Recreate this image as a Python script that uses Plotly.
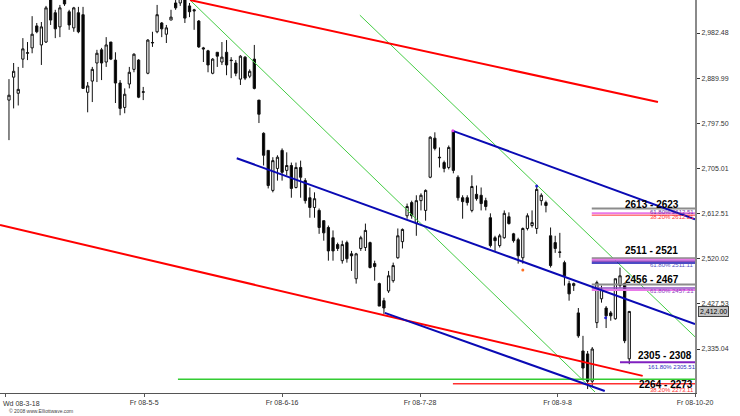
import plotly.graph_objects as go

# ---- candle data (daily OHLC) ----
opens = [2845, 2892, 2859, 2929, 2941, 2952, 2997, 2958, 2964, 3060,
         3024, 2995, 3055, 3026, 2993, 3024, 3020, 2861, 2884, 2921,
         2948, 2923, 2964, 2927, 2880, 2830, 2878, 2908, 2927, 2861,
         2900, 2962, 2985, 3003, 2980, 3009, 3044, 3044, 3060, 3038,
         3030, 3007, 2952, 2946, 2900, 2943, 2923, 2943, 2927, 2921,
         2888, 2933, 2894, 2929, 2845, 2777, 2742, 2660, 2705, 2742,
         2701, 2711, 2666, 2707, 2680, 2645, 2625, 2619, 2598, 2584,
         2563, 2549, 2516, 2553, 2530, 2479, 2541, 2543, 2553, 2510,
         2469, 2434, 2454, 2475, 2522, 2555, 2608, 2635, 2592, 2639,
         2619, 2687, 2767, 2728, 2717, 2707, 2781, 2687, 2645, 2645,
         2619, 2652, 2650, 2639, 2604, 2563, 2547, 2563, 2606, 2571,
         2559, 2522, 2582, 2588, 2582, 2639, 2635, 2567, 2553, 2534,
         2512, 2469, 2465, 2409, 2331, 2325, 2269, 2389, 2438, 2419,
         2409, 2397, 2465, 2469, 2315]
highs = [2888, 2921, 2913, 2972, 2964, 3017, 3003, 3005, 3038, 3075,
         3030, 3040, 3070, 3030, 3036, 3036, 3036, 2882, 2913, 2948,
         2952, 2974, 2964, 2943, 2886, 2869, 2913, 2941, 2929, 2872,
         2970, 2985, 3040, 3005, 2999, 3030, 3050, 3070, 3070, 3044,
         3032, 3009, 2954, 2948, 2931, 2943, 2964, 2968, 2933, 2927,
         2937, 2935, 2908, 2958, 2845, 2779, 2742, 2728, 2732, 2746,
         2738, 2717, 2717, 2721, 2685, 2666, 2656, 2623, 2598, 2588,
         2578, 2553, 2557, 2557, 2536, 2532, 2567, 2592, 2555, 2516,
         2471, 2440, 2495, 2512, 2582, 2582, 2633, 2639, 2650, 2654,
         2662, 2771, 2779, 2748, 2721, 2752, 2783, 2691, 2650, 2650,
         2691, 2670, 2666, 2645, 2613, 2567, 2571, 2619, 2615, 2573,
         2563, 2584, 2613, 2619, 2668, 2654, 2639, 2584, 2567, 2573,
         2516, 2475, 2471, 2419, 2362, 2331, 2339, 2475, 2465, 2423,
         2413, 2479, 2502, 2471, 2413]
lows = [2763, 2828, 2834, 2911, 2927, 2941, 2982, 2917, 2962, 2999,
        2972, 2974, 3038, 2989, 2985, 2982, 2869, 2820, 2841, 2882,
        2886, 2913, 2927, 2839, 2814, 2818, 2869, 2902, 2849, 2845,
        2898, 2954, 2982, 2974, 2962, 3009, 3030, 3038, 3003, 3015,
        2989, 2952, 2923, 2902, 2898, 2913, 2917, 2896, 2890, 2894,
        2876, 2886, 2890, 2867, 2798, 2711, 2664, 2656, 2680, 2680,
        2691, 2645, 2664, 2645, 2633, 2604, 2604, 2571, 2557, 2516,
        2516, 2536, 2510, 2512, 2495, 2469, 2536, 2536, 2500, 2475,
        2423, 2407, 2450, 2471, 2520, 2541, 2602, 2602, 2567, 2619,
        2598, 2685, 2742, 2707, 2697, 2703, 2695, 2639, 2602, 2629,
        2615, 2639, 2619, 2619, 2543, 2536, 2543, 2561, 2590, 2553,
        2510, 2510, 2578, 2584, 2571, 2629, 2615, 2502, 2532, 2522,
        2465, 2434, 2454, 2358, 2273, 2253, 2259, 2378, 2430, 2378,
        2393, 2395, 2460, 2347, 2304]
closes = [2855, 2904, 2867, 2950, 2942, 2980, 2985, 2995, 3034, 3009,
          2991, 3034, 3042, 2999, 3034, 2985, 2869, 2874, 2908, 2941,
          2921, 2958, 2929, 2880, 2828, 2857, 2902, 2939, 2851, 2862,
          2968, 2963, 3020, 2991, 2993, 3015, 3034, 3055, 3013, 3026,
          3028, 2954, 2950, 2917, 2929, 2935, 2933, 2917, 2926, 2900,
          2935, 2890, 2904, 2869, 2816, 2732, 2670, 2721, 2728, 2697,
          2711, 2664, 2707, 2687, 2639, 2625, 2643, 2584, 2573, 2536,
          2536, 2541, 2549, 2520, 2526, 2530, 2563, 2578, 2502, 2504,
          2423, 2419, 2485, 2506, 2567, 2580, 2627, 2608, 2639, 2650,
          2660, 2769, 2746, 2727, 2705, 2748, 2701, 2645, 2637, 2635,
          2668, 2643, 2633, 2627, 2547, 2557, 2567, 2613, 2592, 2557,
          2526, 2582, 2608, 2594, 2662, 2650, 2629, 2506, 2541, 2533,
          2485, 2448, 2469, 2362, 2296, 2269, 2335, 2471, 2458, 2403,
          2403, 2479, 2485, 2352, 2412]
bar_index = list(range(len(opens)))

# x tick labels (bar index positions) and y tick values
x_tick_pos = [-0.65, 29.2, 59.0, 88.8, 118.5, 148.2]
x_tick_labels = ["Wd 08-3-18", "Fr 08-5-5", "Fr 08-6-16", "Fr 08-7-28", "Fr 08-9-8", "Fr 08-10-20"]
y_ticks = [2335.04, 2427.53, 2520.02, 2612.51, 2705.01, 2797.50, 2889.99, 2982.48]
last_price = 2412.00

# trend lines: (x0, price0, x1, price1)
red_lines = [(39.1, 3050, 140.2, 2841), (-1.94, 2589, 136.9, 2280)]
blue_lines = [(49.2, 2726, 148.2, 2386), (95.9, 2782, 148.2, 2601), (81.2, 2409, 128.7, 2249)]
green_lines = [(39.1, 3050, 126.6, 2247), (75.8, 3019, 148.2, 2360)]

# horizontal target levels: (start index, price, colour)
levels = [
    (36.5, 2273, "#33cc33"),
    (95.9, 2264, "#ff3030"),
    (125.9, 2623, "#8c8c8c"),
    (125.9, 2613, "#e87ae8"),
    (125.9, 2609, "#ff7a7a"),
    (125.9, 2521, "#8c8c8c"),
    (125.9, 2518, "#e87ae8"),
    (125.9, 2515, "#9050c0"),
    (125.9, 2511, "#1010b0"),
    (125.9, 2467, "#8c8c8c"),
    (125.9, 2460, "#9050c0"),
    (125.9, 2456, "#e87ae8"),
    (132.0, 2308, "#8020c0"),
]
zone_labels = ["2613 - 2623", "2511 - 2521", "2456 - 2467", "2305 - 2308", "2264 - 2273"]
zone_label_pos = [(138.9, 2632), (138.9, 2536), (138.9, 2478), (141.7, 2321), (141.9, 2263)]
fib_texts = ["61.80% 2612.51", "38.20% 2612.21", "61.80% 2511.11", "61.80% 2457.21", "161.80% 2305.51", "38.20% 2273.11"]
fib_pos = [(143.2, 2616), (143.2, 2606), (143.2, 2507), (143.2, 2454), (143.2, 2298), (143.2, 2252)]
fib_colors = ["#7030a0", "#ff3030", "#5050c0", "#9040c0", "#3030c0", "#ff3030"]
marker_pts = [(95.9, 2782, "#e040e0"), (114.0, 2669, "#2020d0"), (111.0, 2497, "#ff7020"), (128.9, 2399, "#2020d0")]

X_RANGE = [-1.94, 148.2]
Y_RANGE = [2244.9, 3050.1]

fig = go.Figure()

def add_line(x0, y0, x1, y1, color, width):
    fig.add_trace(go.Scatter(x=[x0, x1], y=[y0, y1], mode="lines",
                             line=dict(color=color, width=width),
                             showlegend=False, hoverinfo="skip"))

for (x0, y0, x1, y1) in green_lines:
    add_line(x0, y0, x1, y1, "#44cc44", 1)
for (xs, p, c) in levels:
    add_line(xs, p, X_RANGE[1], p, c, 2 if c in ("#8c8c8c", "#8020c0", "#e87ae8") else 1.5)

fig.add_trace(go.Candlestick(
    x=bar_index, open=opens, high=highs, low=lows, close=closes,
    increasing=dict(line=dict(color="#111111", width=1), fillcolor="white"),
    decreasing=dict(line=dict(color="#111111", width=1), fillcolor="black"),
    whiskerwidth=0, showlegend=False, hoverinfo="skip"))

for (x0, y0, x1, y1) in red_lines:
    add_line(x0, y0, x1, y1, "#ff0000", 2)
for (x0, y0, x1, y1) in blue_lines:
    add_line(x0, y0, x1, y1, "#0a0ab4", 2)

fig.add_trace(go.Scatter(x=[m[0] for m in marker_pts], y=[m[1] for m in marker_pts],
                         mode="markers", marker=dict(size=3, color=[m[2] for m in marker_pts]),
                         showlegend=False, hoverinfo="skip"))

FONT = "Liberation Sans, Arial, sans-serif"
annotations = []
for txt, (xx, yy) in zip(zone_labels, zone_label_pos):
    annotations.append(dict(x=xx, y=yy, xref="x", yref="y", text="<b>%s</b>" % txt,
                            showarrow=False, font=dict(family=FONT, size=10, color="black")))
for txt, (xx, yy), c in zip(fib_texts, fib_pos, fib_colors):
    annotations.append(dict(x=xx, y=yy, xref="x", yref="y", text=txt, showarrow=False,
                            font=dict(family=FONT, size=6, color=c)))
annotations.append(dict(x=2.8, y=-0.026, xref="x", yref="paper", text=x_tick_labels[0],
                        showarrow=False, yanchor="middle",
                        font=dict(family=FONT, size=7, color="#333")))
annotations.append(dict(x=1, y=last_price, xref="paper", yref="y", text="{:,.2f}".format(last_price),
                        xanchor="left", xshift=3, showarrow=False, bgcolor="#c4c4c4",
                        bordercolor="#444", borderwidth=1, borderpad=1,
                        font=dict(family=FONT, size=7, color="black")))
annotations.append(dict(x=0.01, y=-0.046, xref="paper", yref="paper", text="© 2008 www.Elliottwave.com",
                        xanchor="left", yanchor="middle", showarrow=False,
                        font=dict(family=FONT, size=5, color="#444")))

fig.update_layout(
    width=740, height=416,
    margin=dict(l=0, r=45, t=0, b=23),
    paper_bgcolor="white", plot_bgcolor="white",
    showlegend=False,
    hovermode=False,
    annotations=annotations,
    xaxis=dict(range=X_RANGE, rangeslider=dict(visible=False), showgrid=False, zeroline=False,
               showline=True, linecolor="#555", linewidth=1, ticks="outside", ticklen=3,
               tickcolor="#555", tickvals=x_tick_pos, ticktext=[""] + x_tick_labels[1:],
               tickfont=dict(family=FONT, size=7, color="#333")),
    yaxis=dict(range=Y_RANGE, side="right", showgrid=False, zeroline=False,
               showline=True, linecolor="#8a8a8a", linewidth=2, ticks="outside", ticklen=3,
               tickcolor="#333", tickvals=y_ticks, tickformat=",.2f",
               tickfont=dict(family=FONT, size=7, color="#333")),
)

fig.write_html("out.html", config={"displayModeBar": False},
               post_script="document.body.style.margin='0';")
